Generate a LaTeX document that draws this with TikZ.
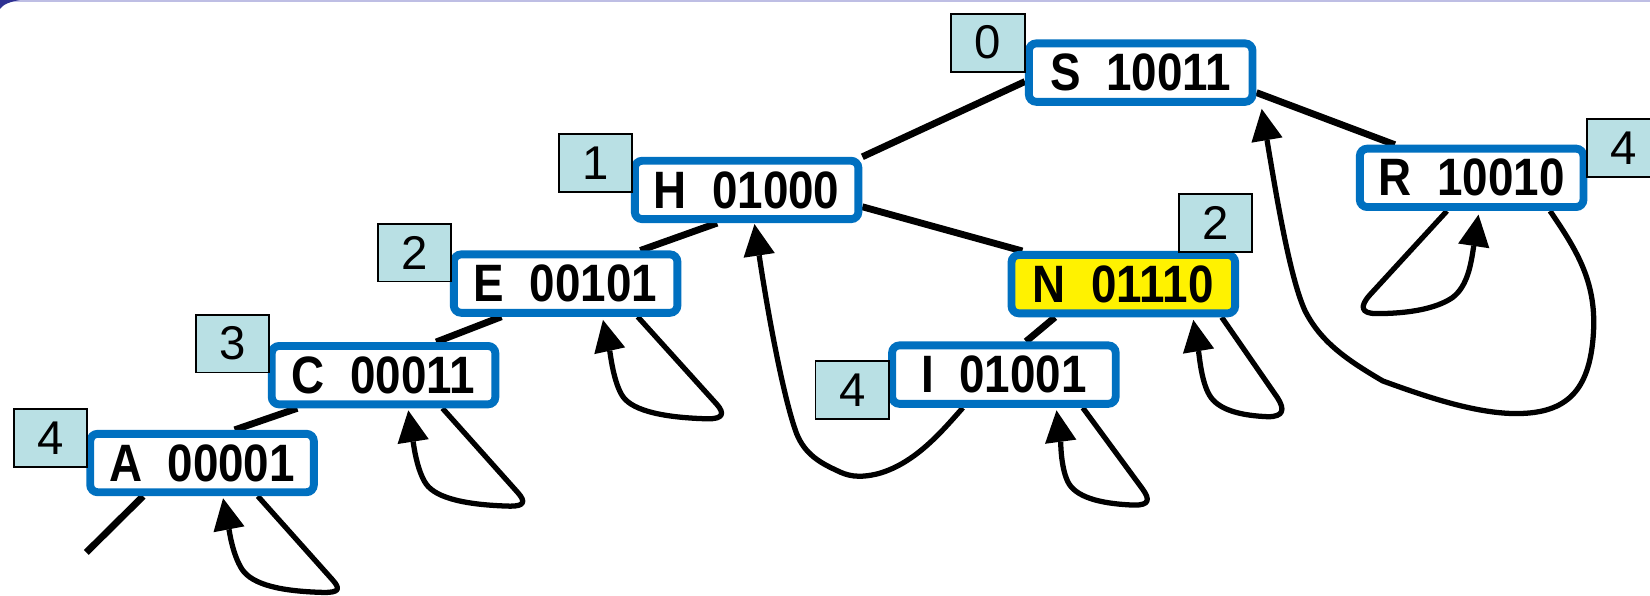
\documentclass[tikz,border=0pt]{standalone}
\usepackage{fontspec}
\setmainfont{Liberation Sans}
\newfontfamily\boxfont[FakeStretch=0.87]{Liberation Sans}
\usetikzlibrary{arrows.meta,backgrounds,calc}
\definecolor{boxblue}{RGB}{0,112,192}
\definecolor{lvlfill}{RGB}{185,224,228}
\definecolor{framepurple}{RGB}{46,49,146}
\definecolor{framelav}{RGB}{190,190,228}
\tikzset{
  keybox/.style={draw=boxblue, line width=7.5pt, rounded corners=7pt, fill=white,
    minimum width=212.5pt, minimum height=55.5pt, inner sep=0pt,
    font=\boxfont\bfseries\fontsize{50}{58}\selectfont},
  hitbox/.style={keybox, fill=yellow},
  lvlbox/.style={draw=black, line width=1.8pt, fill=lvlfill, minimum width=70pt,
    minimum height=55pt, inner sep=0pt, font=\fontsize{45}{52}\selectfont},
  treeline/.style={line width=6.5pt},
  loopline/.style={line width=5pt, line join=round,
    -{Triangle[length=30pt,width=30pt,line width=0pt]}},
}
\begin{document}
\begin{tikzpicture}[x=1pt,y=-1pt]
\useasboundingbox (0,0) rectangle (1568,566);
\clip (0,0) rectangle (1568,566);
% key boxes
\node[keybox] (S) at (1084,69) {S~~10011};
\node[keybox] (H) at (709.5,180.5) {H~~01000};
\node[keybox] (R) at (1398.5,169) {R~~10010};
\node[keybox] (E) at (537.5,269.5) {E~~00101};
\node[hitbox] (N) at (1067.5,270) {N~~01110};
\node[keybox] (C) at (364.5,356.5) {C~~00011};
\node[keybox] (I) at (954,356) {I~~01001};
\node[keybox] (A) at (192,440) {A~~00001};
% level labels
\node[lvlbox] (L0) at (939,40.5) {0};
\node[lvlbox] (L1) at (566,155) {1};
\node[lvlbox] (L2E) at (394,240) {2};
\node[lvlbox] (L3) at (221,326.5) {3};
\node[lvlbox] (L4A) at (48,416) {4};
\node[lvlbox] (L4I) at (810,370.5) {4};
\node[lvlbox] (L2N) at (1155,212) {2};
\node[lvlbox] (L4R) at (1543,141) {4};
\coordinate (nullA) at (82,525);
\begin{scope}[on background layer]
\fill[white] (0,0) rectangle (1568,566);
\fill[framelav] (0,0) rectangle (1568,1.6);
\fill[framepurple] (0,0) -- (19,0) .. controls (10,1.5) and (3,4) .. (0,8.5) -- cycle;
% tree links
\draw[treeline] ([yshift=-8.5pt]S.west) -- (H.north east);
\draw[treeline] ([yshift=-19pt]S.east) -- ([xshift=37pt]R.north west);
\draw[treeline] ([xshift=-28pt]H.south) -- ([xshift=-39pt]E.north east);
\draw[treeline] ([yshift=-16pt]H.east) -- ([xshift=14pt]N.north west);
\draw[treeline] ([xshift=49pt]E.south west) -- ([xshift=-60pt]C.north east);
\draw[treeline] ([xshift=28pt]C.south west) -- ([xshift=141pt]A.north west);
\draw[treeline] ([xshift=45pt]N.south west) -- ([xshift=131pt]I.north west);
\draw[treeline] ([xshift=54pt]A.south west) -- (nullA);
% self links
\draw[loopline] ([xshift=-57pt]A.south east) -- (316,551) .. controls (324,560) and (322,563) .. (308,563) .. controls (268,562) and (240,556) .. (230,541) .. controls (221,527) and (218,505) .. ([xshift=20pt,yshift=-2pt]A.south);
\draw[loopline] ([xshift=-54pt]C.south east) -- (492,468) .. controls (500,477) and (498,481) .. (485,481) .. controls (445,480) and (415,474) .. (405,460) .. controls (396,447) and (393,422) .. ([xshift=23.5pt,yshift=-2pt]C.south);
\draw[loopline] ([xshift=-41.5pt]E.south east) -- (681,384) .. controls (689,393) and (687,398) .. (673,398) .. controls (633,397) and (602,391) .. (592,377) .. controls (583,364) and (580,336) .. ([xshift=35.5pt,yshift=-3pt]E.south);
\draw[loopline] ([xshift=-16.5pt]N.south east) -- (1214,378) .. controls (1221,389) and (1220,396) .. (1205,396) .. controls (1180,395) and (1160,390) .. (1151,378) .. controls (1142,366) and (1140,340) .. ([xshift=66.5pt,yshift=-2.5pt]N.south);
\draw[loopline] ([xshift=-35pt]I.south east) -- (1086,465) .. controls (1093,475) and (1092,480) .. (1078,480) .. controls (1050,479) and (1025,474) .. (1016,460) .. controls (1008,447) and (1008,420) .. ([xshift=50pt,yshift=-2.5pt]I.south);
\draw[loopline] ([xshift=86.5pt]R.south west) -- (1302,280) .. controls (1292,291) and (1293,298) .. (1308,298) .. controls (1340,298) and (1365,293) .. (1380,283) .. controls (1395,272) and (1398,250) .. ([xshift=6.5pt,yshift=-3.5pt]R.south);
% back links
\draw[loopline] ([xshift=-35.5pt]R.south east) .. controls (1500,240) and (1518,270) .. (1514,320) .. controls (1510,370) and (1490,393) .. (1441,393) .. controls (1400,393) and (1350,375) .. (1314,362) .. controls (1280,342) and (1255,325) .. (1240,295) .. controls (1225,262) and (1212,180) .. ([xshift=5pt,yshift=-3pt]S.south east);
\draw[loopline] ([xshift=-39pt]I.south) .. controls (895,410) and (870,440) .. (835,450) .. controls (815,455) and (805,452) .. (795,447) .. controls (780,440) and (765,432) .. (757,412) .. controls (745,380) and (730,300) .. ([xshift=7.5pt,yshift=-1pt]H.south);
\end{scope}
\end{tikzpicture}
\end{document}
